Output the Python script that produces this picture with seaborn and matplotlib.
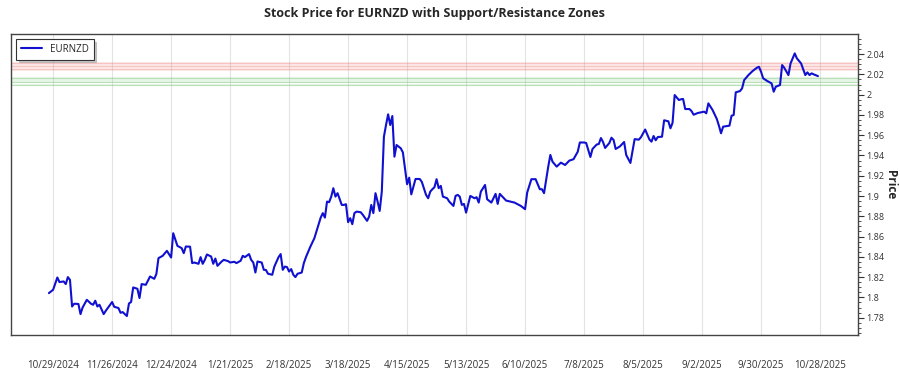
import pandas as pd
import seaborn as sns
import matplotlib.pyplot as plt
import matplotlib.dates as mdates
from matplotlib.ticker import MultipleLocator, FuncFormatter

# EURNZD closes
dates = [
    "2024-10-27", "2024-10-29", "2024-10-31", "2024-11-01", "2024-11-03", "2024-11-04", "2024-11-05",
    "2024-11-06", "2024-11-07", "2024-11-08", "2024-11-10", "2024-11-11", "2024-11-12", "2024-11-14",
    "2024-11-16", "2024-11-17", "2024-11-18", "2024-11-19", "2024-11-20", "2024-11-22", "2024-11-23",
    "2024-11-26", "2024-11-27", "2024-11-29", "2024-11-30", "2024-12-01", "2024-12-03", "2024-12-04",
    "2024-12-05", "2024-12-06", "2024-12-08", "2024-12-09", "2024-12-10", "2024-12-12", "2024-12-14",
    "2024-12-16", "2024-12-17", "2024-12-18", "2024-12-20", "2024-12-22", "2024-12-24", "2024-12-25",
    "2024-12-27", "2024-12-29", "2024-12-30", "2024-12-31", "2025-01-02", "2025-01-03", "2025-01-04",
    "2025-01-06", "2025-01-07", "2025-01-08", "2025-01-09", "2025-01-10", "2025-01-12", "2025-01-13",
    "2025-01-14", "2025-01-15", "2025-01-17", "2025-01-18", "2025-01-20", "2025-01-21", "2025-01-23",
    "2025-01-24", "2025-01-26", "2025-01-27", "2025-01-28", "2025-01-30", "2025-01-31", "2025-02-01",
    "2025-02-02", "2025-02-03", "2025-02-05", "2025-02-06", "2025-02-07", "2025-02-08", "2025-02-10",
    "2025-02-11", "2025-02-13", "2025-02-14", "2025-02-15", "2025-02-16", "2025-02-17", "2025-02-18",
    "2025-02-19", "2025-02-20", "2025-02-21", "2025-02-22", "2025-02-24", "2025-02-25", "2025-02-26",
    "2025-02-28", "2025-03-02", "2025-03-05", "2025-03-06", "2025-03-07", "2025-03-08", "2025-03-09",
    "2025-03-10", "2025-03-11", "2025-03-12", "2025-03-13", "2025-03-15", "2025-03-16", "2025-03-17",
    "2025-03-18", "2025-03-19", "2025-03-20", "2025-03-21", "2025-03-22", "2025-03-24", "2025-03-25",
    "2025-03-27", "2025-03-28", "2025-03-29", "2025-03-30", "2025-03-31", "2025-04-01", "2025-04-02",
    "2025-04-03", "2025-04-04", "2025-04-05", "2025-04-06", "2025-04-07", "2025-04-08", "2025-04-09",
    "2025-04-10", "2025-04-12", "2025-04-13", "2025-04-15", "2025-04-16", "2025-04-17", "2025-04-19",
    "2025-04-21", "2025-04-22", "2025-04-24", "2025-04-25", "2025-04-26", "2025-04-27", "2025-04-28",
    "2025-04-29", "2025-04-30", "2025-05-01", "2025-05-02", "2025-05-04", "2025-05-05", "2025-05-07",
    "2025-05-08", "2025-05-09", "2025-05-10", "2025-05-11", "2025-05-12", "2025-05-13", "2025-05-15",
    "2025-05-17", "2025-05-18", "2025-05-19", "2025-05-20", "2025-05-22", "2025-05-23", "2025-05-25",
    "2025-05-27", "2025-05-28", "2025-05-29", "2025-06-01", "2025-06-03", "2025-06-05", "2025-06-08",
    "2025-06-10", "2025-06-11", "2025-06-13", "2025-06-15", "2025-06-17", "2025-06-18", "2025-06-19",
    "2025-06-21", "2025-06-22", "2025-06-23", "2025-06-25", "2025-06-27", "2025-06-29", "2025-07-01",
    "2025-07-03", "2025-07-05", "2025-07-06", "2025-07-08", "2025-07-09", "2025-07-11", "2025-07-12",
    "2025-07-14", "2025-07-15", "2025-07-16", "2025-07-17", "2025-07-18", "2025-07-20", "2025-07-21",
    "2025-07-22", "2025-07-23", "2025-07-25", "2025-07-27", "2025-07-28", "2025-07-29", "2025-07-30",
    "2025-08-01", "2025-08-03", "2025-08-04", "2025-08-06", "2025-08-08", "2025-08-09", "2025-08-10",
    "2025-08-11", "2025-08-12", "2025-08-14", "2025-08-15", "2025-08-17", "2025-08-18", "2025-08-19",
    "2025-08-20", "2025-08-22", "2025-08-23", "2025-08-24", "2025-08-25", "2025-08-27", "2025-08-28",
    "2025-08-29", "2025-08-31", "2025-09-03", "2025-09-04", "2025-09-05", "2025-09-06", "2025-09-07",
    "2025-09-09", "2025-09-10", "2025-09-11", "2025-09-12", "2025-09-14", "2025-09-15", "2025-09-16",
    "2025-09-17", "2025-09-18", "2025-09-20", "2025-09-21", "2025-09-22", "2025-09-24", "2025-09-26",
    "2025-09-28", "2025-09-29", "2025-09-30", "2025-10-01", "2025-10-03", "2025-10-05", "2025-10-06",
    "2025-10-07", "2025-10-09", "2025-10-10", "2025-10-11", "2025-10-13", "2025-10-14", "2025-10-16",
    "2025-10-17", "2025-10-19", "2025-10-21", "2025-10-22", "2025-10-23", "2025-10-24", "2025-10-25",
    "2025-10-27",
]
prices = [
    1.8042, 1.8075, 1.8196, 1.8151, 1.8157, 1.8131, 1.8200,
    1.8173, 1.7910, 1.7937, 1.7935, 1.7835, 1.7900, 1.7976,
    1.7937, 1.7927, 1.7967, 1.7910, 1.7927, 1.7835, 1.7868,
    1.7954, 1.7907, 1.7895, 1.7848, 1.7855, 1.7816, 1.7940,
    1.7954, 1.8098, 1.8085, 1.7993, 1.8131, 1.8124, 1.8206,
    1.8183, 1.8230, 1.8387, 1.8410, 1.8459, 1.8393, 1.8633,
    1.8508, 1.8486, 1.8436, 1.8502, 1.8500, 1.8338, 1.8344,
    1.8331, 1.8397, 1.8331, 1.8370, 1.8423, 1.8403, 1.8331,
    1.8383, 1.8311, 1.8354, 1.8370, 1.8358, 1.8344, 1.8351,
    1.8338, 1.8361, 1.8410, 1.8397, 1.8427, 1.8370, 1.8344,
    1.8245, 1.8354, 1.8344, 1.8272, 1.8270, 1.8233, 1.8223,
    1.8304, 1.8397, 1.8427, 1.8272, 1.8304, 1.8299, 1.8255,
    1.8279, 1.8223, 1.8200, 1.8233, 1.8245, 1.8338, 1.8397,
    1.8496, 1.8584, 1.8787, 1.8831, 1.8787, 1.8945, 1.8939,
    1.8994, 1.9077, 1.8994, 1.9028, 1.8912, 1.8912, 1.8919,
    1.8742, 1.8781, 1.8722, 1.8831, 1.8846, 1.8840, 1.8814,
    1.8755, 1.8797, 1.8912, 1.8831, 1.9028, 1.8945, 1.8853,
    1.9043, 1.9585, 1.9700, 1.9806, 1.9700, 1.9789, 1.9388,
    1.9503, 1.9471, 1.9430, 1.9116, 1.9181, 1.9016, 1.9168,
    1.9168, 1.9139, 1.9011, 1.8978, 1.9043, 1.9067, 1.9087,
    1.9166, 1.9077, 1.9100, 1.8994, 1.8978, 1.8945, 1.8902,
    1.9001, 1.9011, 1.8994, 1.8912, 1.8922, 1.8836, 1.9001,
    1.8978, 1.8988, 1.8935, 1.9043, 1.9109, 1.8968, 1.8935,
    1.9021, 1.8922, 1.9021, 1.8955, 1.8945, 1.8935, 1.8902,
    1.8870, 1.9034, 1.9166, 1.9166, 1.9067, 1.9067, 1.9028,
    1.9290, 1.9405, 1.9339, 1.9290, 1.9329, 1.9306, 1.9349,
    1.9363, 1.9437, 1.9528, 1.9528, 1.9523, 1.9385, 1.9464,
    1.9508, 1.9513, 1.9572, 1.9533, 1.9474, 1.9523, 1.9575,
    1.9553, 1.9464, 1.9489, 1.9533, 1.9405, 1.9366, 1.9326,
    1.9561, 1.9556, 1.9580, 1.9656, 1.9558, 1.9536, 1.9592,
    1.9550, 1.9582, 1.9585, 1.9747, 1.9737, 1.9668, 1.9722,
    1.9996, 1.9947, 1.9954, 1.9957, 1.9858, 1.9858, 1.9838,
    1.9802, 1.9819, 1.9832, 1.9816, 1.9914, 1.9881, 1.9848,
    1.9760, 1.9694, 1.9619, 1.9684, 1.9691, 1.9694, 1.9792,
    1.9799, 2.0023, 2.0035, 2.0062, 2.0144, 2.0193, 2.0233,
    2.0265, 2.0275, 2.0226, 2.0161, 2.0134, 2.0111, 2.0029,
    2.0078, 2.0095, 2.0292, 2.0265, 2.0193, 2.0308, 2.0407,
    2.0358, 2.0308, 2.0193, 2.0220, 2.0193, 2.0210, 2.0200,
    2.0183,
]

resistance_levels = [2.0310, 2.0278, 2.0250]
support_levels = [2.0162, 2.0128, 2.0095]

tick_dates = pd.date_range("2024-10-29", "2025-10-28", freq="28D")

df = pd.DataFrame({"Date": pd.to_datetime(dates), "Price": prices})

sns.set_style("white")
plt.rcParams["font.family"] = ["Open Sans", "DejaVu Sans"]

fig = plt.figure(figsize=(9, 3.75), dpi=100)
ax = fig.add_axes([0.0122, 0.107, 0.9411, 0.802])

for lvl in resistance_levels:
    ax.axhspan(lvl - 0.0013, lvl + 0.0013, color="#f08080", alpha=0.18, lw=0)
    ax.axhline(lvl, color="#f08080", alpha=0.35, lw=0.8)
for lvl in support_levels:
    ax.axhspan(lvl - 0.0013, lvl + 0.0013, color="#7fc97f", alpha=0.18, lw=0)
    ax.axhline(lvl, color="#7fc97f", alpha=0.45, lw=0.8)

sns.lineplot(data=df, x="Date", y="Price", ax=ax, color="#1010d0", linewidth=1.5,
             estimator=None, sort=False, label="EURNZD")

ax.set_xlim(pd.Timestamp("2024-10-09"), pd.Timestamp("2025-11-15"))
ax.set_ylim(1.763, 2.0597)

ax.set_xticks(tick_dates)
ax.xaxis.set_major_formatter(FuncFormatter(
    lambda v, p: f"{mdates.num2date(v).month}/{mdates.num2date(v).day}/{mdates.num2date(v).year}"))
ax.tick_params(axis="x", direction="out", length=4, pad=14, labelsize=7, colors="#333333")
ax.grid(axis="x", color="#e3e3e3", linewidth=0.8)
ax.grid(axis="y", visible=False)

ax.yaxis.tick_right()
ax.yaxis.set_label_position("right")
ax.yaxis.set_major_locator(MultipleLocator(0.02))
ax.yaxis.set_minor_locator(MultipleLocator(0.005))
ax.yaxis.set_major_formatter(FuncFormatter(lambda v, p: f"{round(v, 2):g}"))
ax.tick_params(axis="y", which="major", direction="out", length=4, pad=2, labelsize=6.5, colors="#333333")
ax.tick_params(axis="y", which="minor", direction="out", length=2, colors="#333333")
ax.set_ylabel("Price", rotation=270, fontsize=8.5, fontweight="bold", va="center")
ax.yaxis.set_label_coords(1.038, 0.5)
ax.set_xlabel("")

for sp in ax.spines.values():
    sp.set_color("#444444")
    sp.set_linewidth(1.0)

ax.set_title("Stock Price for EURNZD with Support/Resistance Zones",
             fontsize=9, fontweight="bold", pad=12)

leg = ax.legend(loc="upper left", fontsize=7, frameon=True, fancybox=False,
                shadow={"color": "#999999", "alpha": 0.5}, borderpad=0.5, handlelength=2.2)
leg.get_frame().set_edgecolor("#333333")
leg.get_frame().set_linewidth(0.8)

fig.savefig("out.png", dpi=100)
